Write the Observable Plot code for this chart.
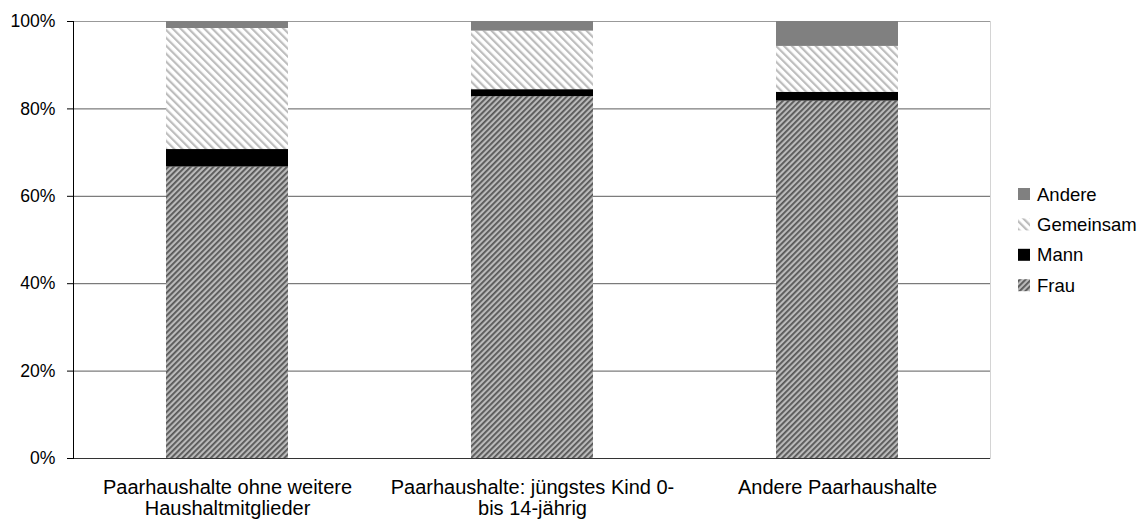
<!DOCTYPE html>
<html>
<head>
<meta charset="utf-8">
<script src="https://cdn.jsdelivr.net/npm/d3@7"></script>
<script src="https://cdn.jsdelivr.net/npm/@observablehq/plot@0.6"></script>
<style>
  body { margin: 0; background: #fff; font-family: "Liberation Sans", Arial, sans-serif; }
  #chart { position: relative; width: 1147px; height: 520px; }
  #legend { position: absolute; left: 1010px; top: 175px; }
</style>
</head>
<body>
<div id="chart"></div>
<script>
// Household types (x categories) and their axis labels
const categories = [
  "Paarhaushalte ohne weitere Haushaltmitglieder",
  "Paarhaushalte: jüngstes Kind 0-bis 14-jährig",
  "Andere Paarhaushalte"
];
const tickLabels = [
  "Paarhaushalte ohne weitere\nHaushaltmitglieder",
  "Paarhaushalte: jüngstes Kind 0-\nbis 14-jährig",
  "Andere Paarhaushalte"
];

// Who does the work — stacked from bottom to top
const series = ["Frau", "Mann", "Gemeinsam", "Andere"];

// Shares in percent, one value per household type
const frau      = [66.7, 82.8, 81.8];
const mann      = [4.0, 1.6, 2.0];
const gemeinsam = [27.7, 13.4, 10.5];
const andere    = [1.6, 2.2, 5.7];

const yTicks = [0, 20, 40, 60, 80, 100];

const valuesBySeries = { Frau: frau, Mann: mann, Gemeinsam: gemeinsam, Andere: andere };
const rows = [];
for (const s of series) {
  categories.forEach((c, i) => rows.push({ category: c, series: s, value: valuesBySeries[s][i] }));
}

const fills = ["url(#hatch-frau)", "#000000", "url(#hatch-gemeinsam)", "#808080"];

const plot = Plot.plot({
  width: 1147,
  height: 520,
  marginLeft: 73,
  marginRight: 157,
  marginTop: 21,
  marginBottom: 62,
  style: { fontFamily: '"Liberation Sans", Arial, sans-serif', fontSize: "18px", color: "#000", background: "#fff" },
  x: { domain: categories, paddingInner: 0.6, paddingOuter: 0.3, label: null },
  y: { domain: [0, 100], label: null },
  color: { domain: series, range: fills },
  marks: [
    Plot.ruleY(yTicks.filter(t => t > 0 && t < 100), { stroke: "#5c5c5c" }),
    Plot.ruleY([100], { stroke: "#999" }),
    Plot.frame({ anchor: "right", stroke: "#d4d4d4" }),
    Plot.barY(rows, { x: "category", y: "value", fill: "series", order: series }),
    Plot.ruleY([0], { stroke: "#333" }),
    Plot.frame({ anchor: "left", stroke: "#000" }),
    Plot.axisY(yTicks, {
      label: null,
      tickSize: 6, tickPadding: 12, stroke: "#000",
      tickFormat: d => d + "%", fontSize: 17.6
    }),
    Plot.axisX({
      label: null,
      tickSize: 0, tickPadding: 20,
      tickFormat: d => tickLabels[categories.indexOf(d)],
      fontSize: 20, lineHeight: 1.08
    })
  ]
});

// Hatch patterns used by the Frau and Gemeinsam segments
d3.select(plot).insert("defs", ":first-child").html(`
  <pattern id="hatch-frau" width="4" height="4" patternUnits="userSpaceOnUse" patternTransform="rotate(45)">
    <rect width="4" height="4" fill="#bababa"></rect>
    <rect width="1.8" height="4" fill="#565656"></rect>
  </pattern>
  <pattern id="hatch-gemeinsam" width="5.6" height="5.6" patternUnits="userSpaceOnUse" patternTransform="rotate(-45)">
    <rect width="5.6" height="5.6" fill="#ffffff"></rect>
    <rect width="2.2" height="5.6" fill="#bdbdbd"></rect>
  </pattern>
`);

const chart = document.getElementById("chart");
chart.appendChild(plot);

// Legend on the right, top entry = top of stack
const legend = d3.select(chart).append("svg")
  .attr("id", "legend")
  .attr("width", 137)
  .attr("height", 130)
  .style("font-family", '"Liberation Sans", Arial, sans-serif');

series.slice().reverse().forEach((s, i) => {
  const baseline = 25.5 + i * 30.4;
  const fill = fills[series.indexOf(s)];
  legend.append("rect")
    .attr("x", 8).attr("y", baseline - 12.5)
    .attr("width", 12).attr("height", 12)
    .attr("fill", fill);
  legend.append("text")
    .attr("x", 27).attr("y", baseline)
    .attr("font-size", 18.5)
    .attr("fill", "#000")
    .text(s);
});
</script>
</body>
</html>
